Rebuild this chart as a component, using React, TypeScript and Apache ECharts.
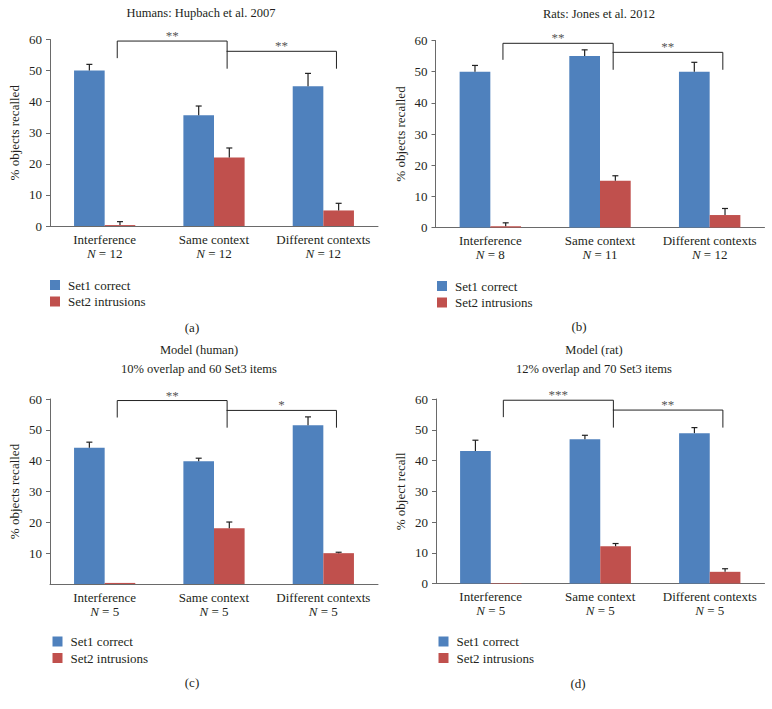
import React, { useEffect, useRef } from "react";
import * as echarts from "echarts";

// ---------- data ----------
const categories = ["Interference", "Same context", "Different contexts"];
const seriesNames = ["Set1 correct", "Set2 intrusions"];

// (a) Humans: Hupbach et al. 2007
const aN = [12, 12, 12];
const aSet1 = [50, 35.6, 45];
const aSet1Err = [2, 3, 4.1];
const aSet2 = [0.3, 22, 5];
const aSet2Err = [1.1, 3.1, 2.3];
const aBrackets = [[0, 1, 59.5, 54, 50.6], [1, 2, 56.2, 56.2, 50.6]];
const aStars = ["**", "**"];

// (b) Rats: Jones et al. 2012
const bN = [8, 11, 12];
const bSet1 = [50, 55, 50];
const bSet1Err = [2, 2, 3];
const bSet2 = [0.4, 15, 4];
const bSet2Err = [1.1, 1.6, 2.1];
const bBrackets = [[0, 1, 59.1, 53.8, 50.6], [1, 2, 56.2, 56.2, 50.6]];
const bStars = ["**", "**"];

// (c) Model (human)
const cN = [5, 5, 5];
const cSet1 = [44.2, 39.8, 51.5];
const cSet1Err = [1.8, 1, 2.7];
const cSet2 = [0.35, 18.1, 10];
const cSet2Err = [0, 2, 0.3];
const cBrackets = [[0, 1, 59.5, 54, 50.7], [1, 2, 56.3, 56.3, 50.7]];
const cStars = ["**", "*"];

// (d) Model (rat)
const dN = [5, 5, 5];
const dSet1 = [43.1, 46.9, 48.9];
const dSet1Err = [3.5, 1.3, 1.8];
const dSet2 = [0.2, 12.1, 3.8];
const dSet2Err = [0, 0.9, 1];
const dBrackets = [[0, 1, 59.6, 54.1, 50.7], [1, 2, 56.4, 56.4, 50.7]];
const dStars = ["***", "**"];

const yTicks = { min: 0, max: 60, interval: 10 };

// ---------- layout / style ----------
const FONT = "'Liberation Serif', 'Times New Roman', serif";
const BLUE = "#4F81BD";
const RED = "#C0504D";
const AXIS = "#6a6a6a";
const TEXT = "#231f20";
const BAR_W = 0.28;

const panels = [
  {
    n: aN, s1: aSet1, e1: aSet1Err, s2: aSet2, e2: aSet2Err, br: aBrackets, st: aStars,
    grid: { left: 50, top: 39.5, width: 328, height: 186.5 },
    yName: "% objects recalled", hideZero: false,
    title: ["Humans: Hupbach et al. 2007"], titleX: 201, titleY: [13],
    legend: { left: 50, top: 278 }, sub: "(a)", subX: 192, subY: 327,
  },
  {
    n: bN, s1: bSet1, e1: bSet1Err, s2: bSet2, e2: bSet2Err, br: bBrackets, st: bStars,
    grid: { left: 435.5, top: 40.5, width: 329, height: 187 },
    yName: "% objects recalled", hideZero: false,
    title: ["Rats: Jones et al. 2012"], titleX: 599, titleY: [13.5],
    legend: { left: 437, top: 279 }, sub: "(b)", subX: 579, subY: 326,
  },
  {
    n: cN, s1: cSet1, e1: cSet1Err, s2: cSet2, e2: cSet2Err, br: cBrackets, st: cStars,
    grid: { left: 50, top: 399, width: 328, height: 185 },
    yName: "% objects recalled", hideZero: true,
    title: ["Model (human)", "10% overlap and 60 Set3 items"], titleX: 199, titleY: [350, 368.5],
    legend: { left: 52.5, top: 634.5 }, sub: "(c)", subX: 192, subY: 682,
  },
  {
    n: dN, s1: dSet1, e1: dSet1Err, s2: dSet2, e2: dSet2Err, br: dBrackets, st: dStars,
    grid: { left: 436, top: 399, width: 328.5, height: 184.5 },
    yName: "% object recall", hideZero: false,
    title: ["Model (rat)", "12% overlap and 70 Set3 items"], titleX: 594, titleY: [350, 368.5],
    legend: { left: 438.5, top: 634.5 }, sub: "(d)", subX: 578, subY: 683,
  },
];

function errorRender(sign: number) {
  return (params: any, api: any) => {
    const band = api.size([1, 0])[0];
    const cat = api.value(0);
    const v = api.value(1);
    const e = api.value(2);
    if (!(e > 0)) return { type: "group", children: [] };
    const p0 = api.coord([cat, v]);
    const p1 = api.coord([cat, v + e]);
    const x = p0[0] + sign * band * BAR_W / 2;
    const style = { stroke: "#222", lineWidth: 1.2 };
    return {
      type: "group",
      children: [
        { type: "line", shape: { x1: x, y1: p0[1], x2: x, y2: p1[1] }, style },
        { type: "line", shape: { x1: x - 3, y1: p1[1], x2: x + 3, y2: p1[1] }, style },
      ],
    };
  };
}

function bracketRender(stars: string[]) {
  return (params: any, api: any) => {
    const band = api.size([1, 0])[0];
    const s = api.value(0);
    const e = api.value(1);
    const top = api.value(2);
    const lb = api.value(3);
    const rb = api.value(4);
    const pTop = api.coord([s, top]);
    const pEnd = api.coord([e, top]);
    const x1 = pTop[0] + band * 0.115;
    const x2 = pEnd[0] + band * 0.12;
    const yL = api.coord([s, lb])[1];
    const yR = api.coord([e, rb])[1];
    return {
      type: "group",
      children: [
        {
          type: "polyline",
          shape: { points: [[x1, yL], [x1, pTop[1]], [x2, pTop[1]], [x2, yR]] },
          style: { stroke: "#222", lineWidth: 1, fill: null },
        },
        {
          type: "text",
          x: (x1 + x2) / 2,
          y: pTop[1] + 1,
          style: {
            text: stars[params.dataIndex],
            font: `13px ${FONT}`,
            fill: "#555555",
            align: "center",
            verticalAlign: "bottom",
          },
        },
      ],
    };
  };
}

export default function App() {
  const ref = useRef<HTMLDivElement>(null);
  useEffect(() => {
    if (!ref.current) return;
    const chart = echarts.init(ref.current, null, { renderer: "svg" });

    const grid: any[] = [];
    const xAxis: any[] = [];
    const yAxis: any[] = [];
    const series: any[] = [];
    const legend: any[] = [];
    const graphic: any[] = [];

    panels.forEach((p, i) => {
      grid.push({ ...p.grid, containLabel: false });
      xAxis.push({
        type: "category",
        gridIndex: i,
        data: categories,
        axisTick: { show: false },
        axisLine: { lineStyle: { color: AXIS, width: 1 } },
        axisLabel: {
          interval: 0,
          margin: 6,
          color: TEXT,
          fontFamily: FONT,
          fontSize: 13,
          lineHeight: 14,
          formatter: (val: string, idx: number) => `${val}\n{i|N} = ${p.n[idx]}`,
          rich: {
            i: { fontStyle: "italic", fontFamily: FONT, fontSize: 13, color: TEXT, lineHeight: 14 },
          },
        },
      });
      yAxis.push({
        type: "value",
        gridIndex: i,
        min: yTicks.min,
        max: yTicks.max,
        interval: yTicks.interval,
        name: p.yName,
        nameLocation: "middle",
        nameGap: 29,
        nameTextStyle: { fontFamily: FONT, fontSize: 13, color: TEXT },
        splitLine: { show: false },
        axisLine: { show: true, lineStyle: { color: AXIS, width: 1 } },
        axisTick: { show: true, length: 4, lineStyle: { color: AXIS } },
        axisLabel: {
          margin: 8,
          color: TEXT,
          fontFamily: FONT,
          fontSize: 13,
          showMinLabel: !p.hideZero,
          formatter: (v: number) => (p.hideZero && v === 0 ? "" : String(v)),
        },
      });
      series.push({
        type: "bar",
        name: seriesNames[0],
        xAxisIndex: i,
        yAxisIndex: i,
        data: p.s1,
        barWidth: `${BAR_W * 100}%`,
        barGap: "0%",
        itemStyle: { color: BLUE },
        silent: true,
      });
      series.push({
        type: "bar",
        name: seriesNames[1],
        xAxisIndex: i,
        yAxisIndex: i,
        data: p.s2,
        barWidth: `${BAR_W * 100}%`,
        barGap: "0%",
        itemStyle: { color: RED },
        silent: true,
      });
      series.push({
        type: "custom",
        xAxisIndex: i,
        yAxisIndex: i,
        silent: true,
        clip: false,
        itemStyle: { color: "#222" },
        data: p.s1.map((v, k) => [k, v, p.e1[k]]),
        renderItem: errorRender(-1),
        z: 5,
      });
      series.push({
        type: "custom",
        xAxisIndex: i,
        yAxisIndex: i,
        silent: true,
        clip: false,
        itemStyle: { color: "#222" },
        data: p.s2.map((v, k) => [k, v, p.e2[k]]),
        renderItem: errorRender(1),
        z: 5,
      });
      series.push({
        type: "custom",
        xAxisIndex: i,
        yAxisIndex: i,
        silent: true,
        clip: false,
        itemStyle: { color: "#555555" },
        data: p.br,
        renderItem: bracketRender(p.st),
        z: 6,
      });
      legend.push({
        ...p.legend,
        orient: "vertical",
        icon: "rect",
        itemWidth: 10,
        itemHeight: 10,
        itemGap: 2.5,
        padding: 0,
        selectedMode: false,
        data: seriesNames,
        textStyle: { fontFamily: FONT, fontSize: 13, color: TEXT, lineHeight: 14, padding: [0, 0, 0, 3] },
      });
      p.title.forEach((t, k) => {
        graphic.push({
          type: "text",
          x: p.titleX,
          y: p.titleY[k],
          style: {
            text: t,
            font: `12.5px ${FONT}`,
            fill: TEXT,
            align: "center",
            verticalAlign: "middle",
          },
        });
      });
      graphic.push({
        type: "text",
        x: p.subX,
        y: p.subY,
        style: {
          text: p.sub,
          font: `13px ${FONT}`,
          fill: TEXT,
          align: "center",
          verticalAlign: "middle",
        },
      });
    });

    chart.setOption({
      animation: false,
      backgroundColor: "#ffffff",
      grid,
      xAxis,
      yAxis,
      series,
      legend,
      graphic,
    });
    return () => chart.dispose();
  }, []);
  return (
    <div
      ref={ref}
      style={{ position: "fixed", left: 0, top: 0, width: 772, height: 709, background: "#fff" }}
    />
  );
}
